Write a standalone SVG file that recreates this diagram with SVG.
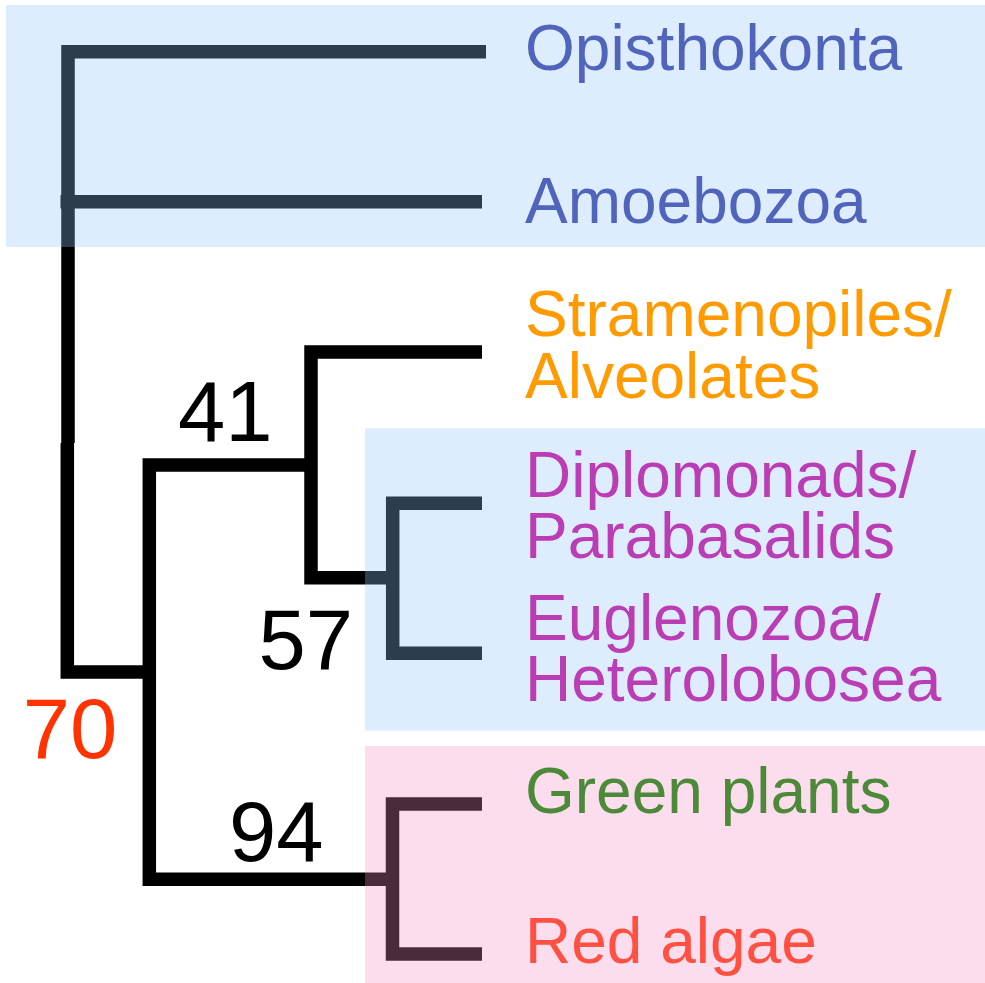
<svg xmlns="http://www.w3.org/2000/svg" width="985" height="983" viewBox="0 0 985 983">
<style>
.br{fill:none;stroke:#000;stroke-width:13.5;stroke-linecap:butt;stroke-linejoin:miter}
.lbl{font-family:"Liberation Sans",Arial,sans-serif;font-size:64px}
.num{font-family:"Liberation Sans",Arial,sans-serif;font-size:85px;fill:#000}
.blue{fill:#94C5F8;fill-opacity:0.31}
.pink{fill:#F590C6;fill-opacity:0.3}
</style>
<rect width="985" height="983" fill="#fff"/>
<g id="connectors">
<path class="br" d="M486 51.7 H68 V443"/>
<path class="br" d="M60.5 201.7 H482"/>
<path class="br" d="M67.3 443 V672 H149.3"/>
<path class="br" d="M311 465 H149.3 V879.2 H392.5"/>
<path class="br" d="M482 352 H311 V577.7 H392.7"/>
<path class="br" d="M482 503.2 H392.7 V653.3 H482"/>
<path class="br" d="M482 804 H392.5 V954 H482"/>
</g>
<g id="group-boxes">
<rect class="blue" x="6" y="5" width="979" height="242"/>
<rect class="blue" x="365" y="428.3" width="620" height="302.4"/>
<rect class="pink" x="365" y="746" width="620" height="237"/>
</g>
<g id="opisthokonta"><text class="lbl" x="525" y="69.5" fill="#5064BC">Opisthokonta</text></g>
<g id="amoebozoa"><text class="lbl" x="525" y="222.5" fill="#5064BC">Amoebozoa</text></g>
<g id="stramenopiles"><text class="lbl" fill="#FF9A00"><tspan x="525" y="336">Stramenopiles/</tspan><tspan x="525" y="397.5">Alveolates</tspan></text></g>
<g id="diplomonads"><text class="lbl" fill="#BB3DB5"><tspan x="525" y="497">Diplomonads/</tspan><tspan x="525" y="558">Parabasalids</tspan></text></g>
<g id="euglenozoa"><text class="lbl" fill="#BB3DB5"><tspan x="525" y="640">Euglenozoa/</tspan><tspan x="525" y="701">Heterolobosea</tspan></text></g>
<g id="green-plants"><text class="lbl" x="525" y="812.5" fill="#4C8A3A">Green plants</text></g>
<g id="red-algae"><text class="lbl" x="525" y="962.5" fill="#FF5042">Red algae</text></g>
<g id="node-41"><text class="num" x="178" y="440.5">41</text></g>
<g id="node-57"><text class="num" x="258.4" y="669">57</text></g>
<g id="node-70"><text class="num" x="22.7" y="758" fill="#FF3300" style="fill:#FF3300">70</text></g>
<g id="node-94"><text class="num" x="229" y="860.5">94</text></g>
</svg>
